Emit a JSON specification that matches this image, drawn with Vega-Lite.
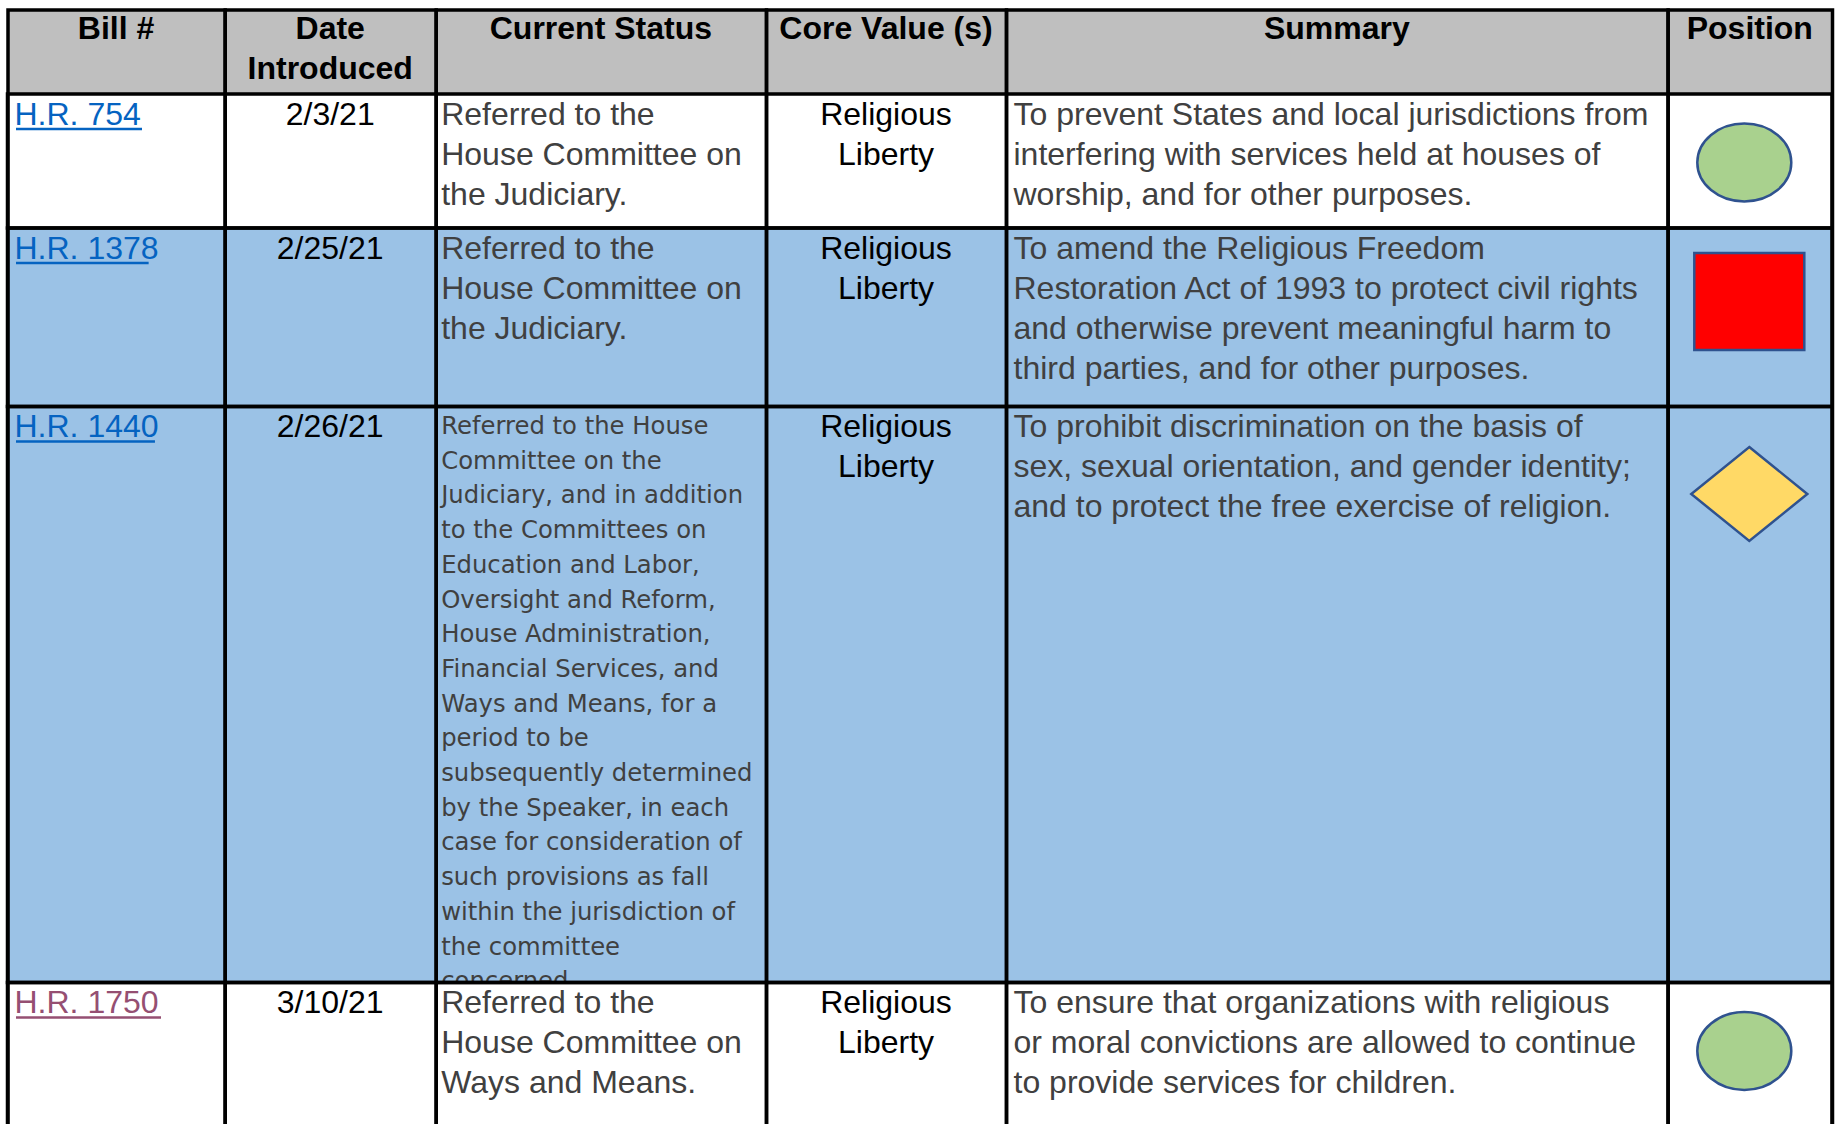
{
  "$schema": "https://vega.github.io/schema/vega-lite/v6.json",
  "width": 1836,
  "height": 1124,
  "autosize": {"type": "fit", "contains": "padding"},
  "padding": 0,
  "background": "#FFFFFF",
  "config": {"view": {"stroke": null}, "text": {"font": "Liberation Sans", "lineBreak": "\n"}},
  "resolve": {"scale": {"fill": "independent", "color": "independent", "size": "independent", "shape": "independent"}},
  "datasets": {
    "bills": [
      {"row": 1, "bill": "H.R. 754", "date": "2/3/21", "status": "Referred to the\nHouse Committee on\nthe Judiciary.", "core": "Religious\nLiberty", "summary": "To prevent States and local jurisdictions from\ninterfering with services held at houses of\nworship, and for other purposes.", "position": "Support"},
      {"row": 2, "bill": "H.R. 1378", "date": "2/25/21", "status": "Referred to the\nHouse Committee on\nthe Judiciary.", "core": "Religious\nLiberty", "summary": "To amend the Religious Freedom\nRestoration Act of 1993 to protect civil rights\nand otherwise prevent meaningful harm to\nthird parties, and for other purposes.", "position": "Oppose"},
      {"row": 3, "bill": "H.R. 1440", "date": "2/26/21", "status": "Referred to the House\nCommittee on the\nJudiciary, and in addition\nto the Committees on\nEducation and Labor,\nOversight and Reform,\nHouse Administration,\nFinancial Services, and\nWays and Means, for a\nperiod to be\nsubsequently determined\nby the Speaker, in each\ncase for consideration of\nsuch provisions as fall\nwithin the jurisdiction of\nthe committee\nconcerned.", "core": "Religious\nLiberty", "summary": "To prohibit discrimination on the basis of\nsex, sexual orientation, and gender identity;\nand to protect the free exercise of religion.", "position": "Neutral"},
      {"row": 4, "bill": "H.R. 1750", "date": "3/10/21", "status": "Referred to the\nHouse Committee on\nWays and Means.", "core": "Religious\nLiberty", "summary": "To ensure that organizations with religious\nor moral convictions are allowed to continue\nto provide services for children.", "position": "Support"}
    ],
    "columns": [
      {"col": 0, "label": "Bill #"},
      {"col": 1, "label": "Date\nIntroduced"},
      {"col": 2, "label": "Current Status"},
      {"col": 3, "label": "Core Value (s)"},
      {"col": 4, "label": "Summary"},
      {"col": 5, "label": "Position"}
    ]
  },
  "layer": [
    {
      "data": {"name": "columns"},
      "mark": {"type": "rect", "fill": "#BFBFBF", "binSpacing": 0},
      "encoding": {
        "x": {"field": "col", "type": "quantitative", "bin": {"step": 1, "extent": [0, 6]}, "scale": {"domain": [0, 1, 2, 3, 4, 5, 6], "range": [7.5, 224.7, 435.7, 766, 1006, 1667.6, 1832], "zero": false, "nice": false}, "axis": null},
        "y": {"datum": 0, "type": "quantitative", "scale": {"domain": [0, 1, 2, 3, 4, 5], "range": [10, 93.5, 227.5, 406, 982, 1200], "zero": false, "nice": false}, "axis": null},
        "y2": {"datum": 1}
      }
    },
    {
      "data": {"name": "bills"},
      "mark": {"type": "rect", "clip": true, "binSpacing": 0},
      "encoding": {
        "x": {"datum": 0, "type": "quantitative", "axis": null},
        "x2": {"datum": 6},
        "y": {"field": "row", "type": "quantitative", "bin": {"step": 1, "extent": [0, 6]}, "axis": null},
        "fill": {"field": "row", "type": "ordinal", "scale": {"domain": [1, 2, 3, 4], "range": ["#FFFFFF", "#9BC2E6", "#9BC2E6", "#FFFFFF"]}, "legend": null}
      }
    },
    {
      "data": {"name": "bills"},
      "transform": [{"filter": "datum.row === 3"}],
      "mark": {"type": "text", "font": "DejaVu Sans", "fontSize": 24.3, "lineHeight": 34.7, "align": "left", "baseline": "top", "dx": 5.5, "dy": 9, "color": "#404040"},
      "encoding": {
        "x": {"datum": 2, "type": "quantitative"},
        "y": {"field": "row", "type": "quantitative"},
        "text": {"field": "status"}
      }
    },
    {
      "data": {"name": "bills"},
      "transform": [{"filter": "datum.row === 4"}],
      "mark": {"type": "rect", "clip": true, "binSpacing": 0, "fill": "#FFFFFF"},
      "encoding": {
        "x": {"datum": 0, "type": "quantitative"},
        "x2": {"datum": 6},
        "y": {"field": "row", "type": "quantitative", "bin": {"step": 1, "extent": [0, 6]}}
      }
    },
    {
      "data": {"name": "bills"},
      "transform": [{"filter": "datum.row !== 3"}],
      "mark": {"type": "text", "fontSize": 32, "lineHeight": 40, "align": "left", "baseline": "top", "dx": 5.5, "dy": 6, "color": "#404040"},
      "encoding": {
        "x": {"datum": 2, "type": "quantitative"},
        "y": {"field": "row", "type": "quantitative"},
        "text": {"field": "status"}
      }
    },
    {
      "data": {"name": "bills"},
      "mark": {"type": "text", "fontSize": 32, "lineHeight": 40, "align": "left", "baseline": "top", "dx": 7, "dy": 6},
      "encoding": {
        "x": {"datum": 0, "type": "quantitative"},
        "y": {"field": "row", "type": "quantitative"},
        "text": {"field": "bill"},
        "color": {"field": "bill", "type": "nominal", "scale": {"domain": ["H.R. 754", "H.R. 1378", "H.R. 1440", "H.R. 1750"], "range": ["#0563C1", "#0563C1", "#0563C1", "#954F72"]}, "legend": null}
      }
    },
    {
      "data": {"name": "bills"},
      "mark": {"type": "point", "shape": "M0,0H2", "filled": false, "opacity": 1, "strokeWidth": 2.5, "xOffset": 8.5, "yOffset": 35.5},
      "encoding": {
        "x": {"datum": 0, "type": "quantitative"},
        "y": {"field": "row", "type": "quantitative"},
        "size": {"field": "bill", "type": "ordinal", "scale": {"domain": ["H.R. 754", "H.R. 1378", "H.R. 1440", "H.R. 1750"], "range": [15876, 21025, 21025, 21025]}, "legend": null},
        "color": {"field": "bill", "type": "nominal", "scale": {"domain": ["H.R. 754", "H.R. 1378", "H.R. 1440", "H.R. 1750"], "range": ["#0563C1", "#0563C1", "#0563C1", "#954F72"]}, "legend": null}
      }
    },
    {
      "data": {"name": "bills"},
      "mark": {"type": "text", "fontSize": 32, "lineHeight": 40, "align": "center", "baseline": "top", "dy": 6, "color": "#000000"},
      "encoding": {
        "x": {"datum": 1.5, "type": "quantitative"},
        "y": {"field": "row", "type": "quantitative"},
        "text": {"field": "date"}
      }
    },
    {
      "data": {"name": "bills"},
      "mark": {"type": "text", "fontSize": 32, "lineHeight": 40, "align": "center", "baseline": "top", "dy": 6, "color": "#000000"},
      "encoding": {
        "x": {"datum": 3.5, "type": "quantitative"},
        "y": {"field": "row", "type": "quantitative"},
        "text": {"field": "core"}
      }
    },
    {
      "data": {"name": "bills"},
      "mark": {"type": "text", "fontSize": 32, "lineHeight": 40, "align": "left", "baseline": "top", "dx": 7.5, "dy": 6, "color": "#404040"},
      "encoding": {
        "x": {"datum": 4, "type": "quantitative"},
        "y": {"field": "row", "type": "quantitative"},
        "text": {"field": "summary"}
      }
    },
    {
      "data": {"name": "bills"},
      "mark": {"type": "point", "size": 4, "filled": true, "opacity": 1, "stroke": "#2F528F", "strokeWidth": 2.5},
      "encoding": {
        "x": {"datum": 5.5, "type": "quantitative"},
        "y": {"field": "row", "type": "quantitative"},
        "shape": {"field": "position", "type": "nominal", "scale": {"domain": ["Support", "Oppose", "Neutral"], "range": ["M-52.5,69A47,39,0,1,0,41.5,69A47,39,0,1,0,-52.5,69Z", "M-55.5,25.5H54.5V122.5H-55.5Z", "M-0.5,41L57.5,88L-0.5,135L-58.5,88Z"]}, "legend": null},
        "fill": {"field": "position", "type": "nominal", "scale": {"domain": ["Support", "Oppose", "Neutral"], "range": ["#A9D18E", "#FF0000", "#FFD966"]}, "legend": null}
      }
    },
    {
      "data": {"name": "bills"},
      "mark": {"type": "rect", "filled": false, "color": "#000000", "strokeWidth": 3.5, "clip": true, "binSpacing": 0},
      "encoding": {
        "x": {"datum": 0, "type": "quantitative"},
        "x2": {"datum": 6},
        "y": {"field": "row", "type": "quantitative", "bin": {"step": 1, "extent": [0, 6]}}
      }
    },
    {
      "data": {"name": "columns"},
      "mark": {"type": "rect", "filled": false, "color": "#000000", "strokeWidth": 3.5, "clip": true, "binSpacing": 0},
      "encoding": {
        "x": {"field": "col", "type": "quantitative", "bin": {"step": 1, "extent": [0, 6]}},
        "y": {"datum": 0, "type": "quantitative"},
        "y2": {"datum": 5}
      }
    },
    {
      "data": {"name": "columns"},
      "mark": {"type": "text", "fontSize": 32, "fontWeight": "bold", "lineHeight": 40, "align": "center", "baseline": "top", "dy": 4, "color": "#000000"},
      "encoding": {
        "x": {"field": "col", "type": "quantitative", "bin": {"step": 1, "extent": [0, 6]}},
        "y": {"datum": 0, "type": "quantitative"},
        "text": {"field": "label"}
      }
    }
  ]
}
